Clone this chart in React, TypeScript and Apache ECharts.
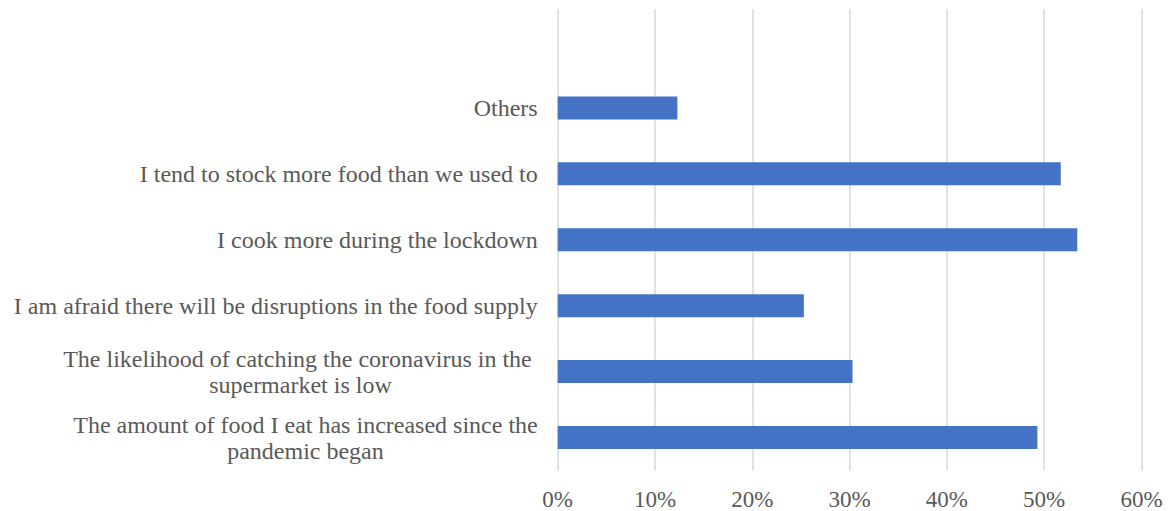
import React, { useEffect, useRef } from "react";
import * as echarts from "echarts";

const categories = [
  "The amount of food I eat has increased since the\npandemic began",
  "The likelihood of catching the coronavirus in the \nsupermarket is low",
  "I am afraid there will be disruptions in the food supply",
  "I cook more during the lockdown",
  "I tend to stock more food than we used to",
  "Others",
  "",
];
const values = [49.3, 30.3, 25.3, 53.4, 51.7, 12.3, null];
const xTicks = { min: 0, max: 60, interval: 10 };

const FONT = "'Liberation Serif', 'Times New Roman', serif";
const TEXT = "#595959";

export default function App() {
  const ref = useRef<HTMLDivElement>(null);
  useEffect(() => {
    if (!ref.current) return;
    const chart = echarts.init(ref.current, undefined, { renderer: "svg" });
    chart.setOption({
      animation: false,
      grid: { left: 557.7, right: 27.5, top: 9, bottom: 40.5, containLabel: false },
      xAxis: {
        type: "value",
        min: xTicks.min,
        max: xTicks.max,
        interval: xTicks.interval,
        axisLine: { show: false },
        axisTick: { show: false },
        splitLine: { show: true, lineStyle: { color: "#d9d9d9", width: 1.5 } },
        axisLabel: {
          formatter: "{value}%",
          color: TEXT,
          fontFamily: FONT,
          fontSize: 23,
          margin: 17,
        },
      },
      yAxis: {
        type: "category",
        data: categories,
        axisLine: { show: false },
        axisTick: { show: false },
        splitLine: { show: false },
        axisLabel: {
          interval: 0,
          margin: 20,
          color: TEXT,
          fontFamily: FONT,
          fontSize: 24,
          formatter: (v: string) =>
            v
              .split("\n")
              .map((l) => `{c|${l}}`)
              .join("\n"),
          rich: {
            c: {
              align: "center",
              color: TEXT,
              fontFamily: FONT,
              fontSize: 24,
              lineHeight: 26,
            },
          },
        },
      },
      series: [
        {
          type: "bar",
          data: values,
          barWidth: 23,
          itemStyle: { color: "#4472C4" },
        },
      ],
    });
    return () => chart.dispose();
  }, []);
  return (
    <div
      ref={ref}
      style={{ position: "fixed", left: 0, top: 0, width: 1169, height: 511, background: "#fff" }}
    />
  );
}
